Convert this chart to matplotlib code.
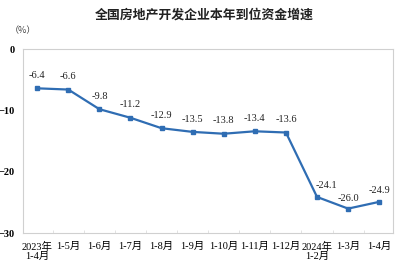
import matplotlib.pyplot as plt

months = ["2023年\n1-4月", "1-5月", "1-6月", "1-7月", "1-8月", "1-9月",
          "1-10月", "1-11月", "1-12月", "2024年\n1-2月", "1-3月", "1-4月"]
growth = [-6.4, -6.6, -9.8, -11.2, -12.9, -13.5, -13.8, -13.4, -13.6, -24.1, -26.0, -24.9]

fonts = ["Liberation Serif", "Noto Sans CJK SC"]
line_color = "#2f6db3"

fig = plt.figure(figsize=(4, 2.68), dpi=100)
ax = fig.add_axes([0.058, 0.13, 0.925, 0.687])

x = list(range(len(months)))
ax.plot(x, growth, color=line_color, lw=1.6, marker="s", ms=3)

# label offsets in points
offsets = [(0, 6)] * 9 + [(7, 5), (0, 4), (0, 5)]
for i, v in enumerate(growth):
    ax.annotate(f"{v:.1f}", (i, v), xytext=offsets[i], textcoords="offset points",
                ha="center", va="bottom", fontsize=7.5, family=fonts, color="#222222")

ax.set_xlim(-0.45, len(months) - 0.55)
ax.set_ylim(-30, 0)
ax.set_yticks([0, -10, -20, -30])
ax.set_xticks(x)
ax.set_xticklabels(months, family=fonts, fontsize=7.5, linespacing=1.05)
ax.set_xticks([i + 0.5 for i in x[:-1]], minor=True)
ax.tick_params(axis="x", which="major", length=0, pad=6)
ax.tick_params(axis="x", which="minor", length=2, direction="in", color="#dddddd")
ax.tick_params(axis="y", length=0, pad=6, labelsize=7.5)
for lab in ax.get_yticklabels():
    lab.set_family(fonts)
    lab.set_fontweight("bold")
for s in ax.spines.values():
    s.set_color("#d0d0d0")
    s.set_linewidth(0.8)

fig.text(0.51, 0.945, "全国房地产开发企业本年到位资金增速", ha="center", va="center",
         fontsize=9.3, family=["Noto Sans CJK SC"], fontweight="bold", color="#222222")
fig.text(0.025, 0.885, "（%）", ha="left", va="center", fontsize=6.5,
         family=["Noto Sans CJK SC"], color="#444444")

fig.savefig("out.png", dpi=100)
